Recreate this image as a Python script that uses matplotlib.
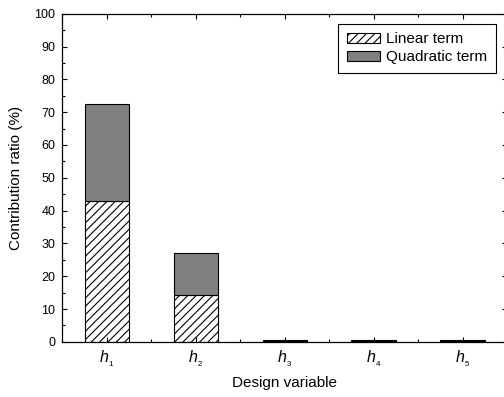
import matplotlib
matplotlib.use('Agg')
import matplotlib.pyplot as plt
import numpy as np
from matplotlib.ticker import MultipleLocator

plt.rcParams['font.family'] = ['Liberation Sans', 'DejaVu Sans']
plt.rcParams['mathtext.fontset'] = 'custom'
plt.rcParams['mathtext.rm'] = 'Liberation Sans'
plt.rcParams['mathtext.it'] = 'Liberation Sans:italic'
plt.rcParams['hatch.linewidth'] = 0.8

variables = ['$h_{_1}$', '$h_{_2}$', '$h_{_3}$', '$h_{_4}$', '$h_{_5}$']
linear = [42.8, 14.4, 0.4, 0.4, 0.4]
quadratic = [29.7, 12.6, 0.2, 0.2, 0.2]

fig = plt.figure(figsize=(5.04, 3.97), dpi=100)
ax = fig.add_axes([0.124, 0.139, 0.882, 0.8265])

x = np.arange(len(variables))
ax.bar(x, linear, width=0.5, color='white', edgecolor='black', hatch='////',
       linewidth=0.8, label='Linear term')
ax.bar(x, quadratic, width=0.5, bottom=linear, color='#808080', edgecolor='black',
       linewidth=0.8, label='Quadratic term')

ax.set_xlim(-0.5, 4.5)
ax.set_ylim(0, 100)
ax.set_xticks(x)
ax.set_xticklabels(variables)
ax.xaxis.set_minor_locator(MultipleLocator(0.5))
ax.yaxis.set_major_locator(MultipleLocator(10))
ax.yaxis.set_minor_locator(MultipleLocator(5))
ax.tick_params(which='both', direction='in', top=True, right=True)
ax.tick_params(which='major', length=3.5, width=0.8)
ax.tick_params(which='minor', length=2, width=0.8)
ax.tick_params(axis='x', which='major', pad=5, labelsize=11.5)
ax.tick_params(axis='y', which='major', pad=5, labelsize=9)
for s in ax.spines.values():
    s.set_linewidth(0.9)

ax.set_xlabel('Design variable', fontsize=11, labelpad=5)
ax.set_ylabel('Contribution ratio (%)', fontsize=11, labelpad=8)

leg = ax.legend(loc='upper right', bbox_to_anchor=(0.984, 0.9395),
                bbox_transform=fig.transFigure, borderaxespad=0, fontsize=11,
                fancybox=False, edgecolor='black', framealpha=1,
                handlelength=2.2, handleheight=0.65, handletextpad=0.4,
                labelspacing=0.25, borderpad=0.55)
leg.get_frame().set_linewidth(0.8)

plt.savefig('out.png', dpi=100)
